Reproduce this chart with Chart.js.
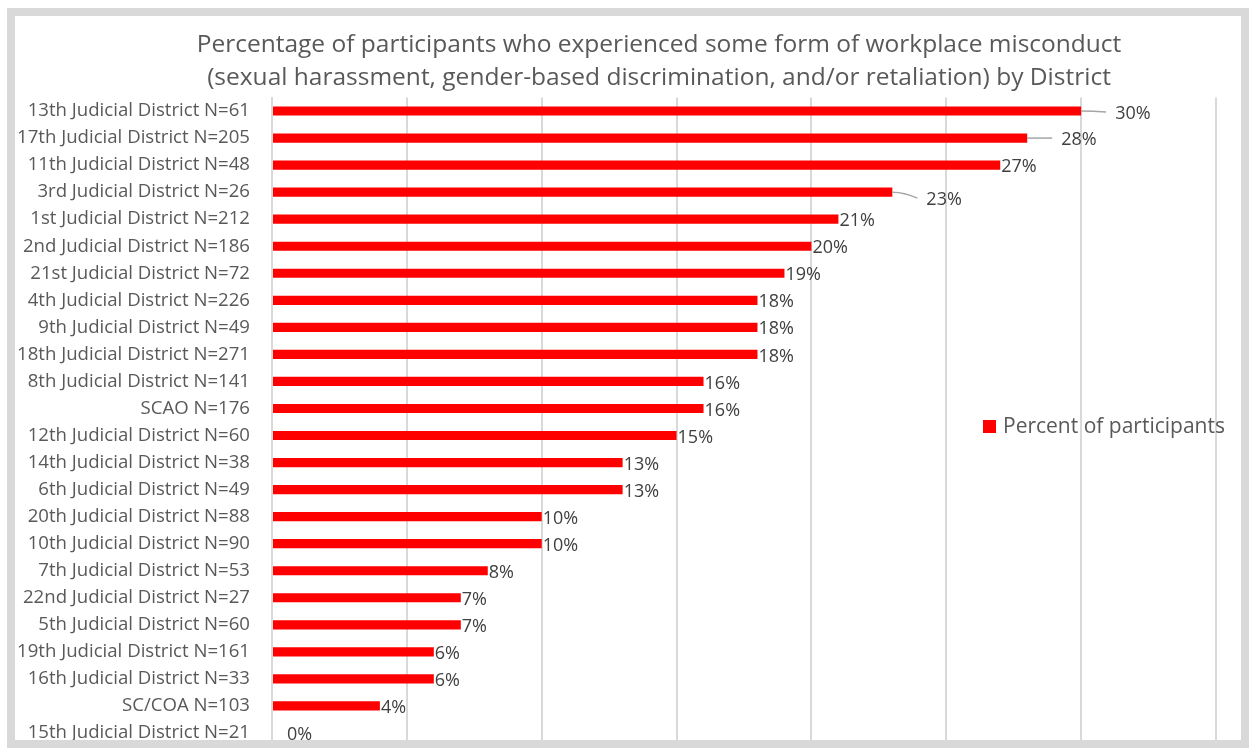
<!DOCTYPE html>
<html>
<head>
<meta charset="utf-8">
<title>Workplace misconduct by District</title>
<script src="https://cdn.jsdelivr.net/npm/chart.js@4.4.1/dist/chart.umd.min.js"></script>
<style>
  html, body { margin: 0; padding: 0; background: #fff; }
  #wrap { width: 1249px; height: 748px; position: relative; }
</style>
</head>
<body>
<div id="wrap"><canvas id="chart" width="1249" height="748"></canvas></div>
<script>
// --- Data ---
const districts = [
    '13th Judicial District N=61', '17th Judicial District N=205', '11th Judicial District N=48',
    '3rd Judicial District N=26', '1st Judicial District N=212', '2nd Judicial District N=186',
    '21st Judicial District N=72', '4th Judicial District N=226', '9th Judicial District N=49',
    '18th Judicial District N=271', '8th Judicial District N=141', 'SCAO N=176',
    '12th Judicial District N=60', '14th Judicial District N=38', '6th Judicial District N=49',
    '20th Judicial District N=88', '10th Judicial District N=90', '7th Judicial District N=53',
    '22nd Judicial District N=27', '5th Judicial District N=60', '19th Judicial District N=161',
    '16th Judicial District N=33', 'SC/COA N=103', '15th Judicial District N=21'
];
const percentValues = [30, 28, 27, 23, 21, 20, 19, 18, 18, 18, 16, 16, 15, 13, 13, 10, 10, 8, 7, 7, 6, 6, 4, 0];
const seriesName = 'Percent of participants';
const titleLines = [
    'Percentage of participants who experienced some form of workplace misconduct',
    '(sexual harassment, gender-based discrimination, and/or retaliation) by District'
];
const axisMax = 35;
const axisStep = 5;

// labels pulled away from the bar with a small leader line (index -> offset)
const callouts = {
    0: { dx: 34, dy: 1 },
    1: { dx: 34, dy: 0 },
    3: { dx: 34, dy: 6 }
};

const FONT = '"Open Sans", Lato, sans-serif';
const GRID = '#d9d9d9';

// --- Plugins ---
const titlePlugin = {
    id: 'centeredTitle',
    afterDraw(chart) {
        const ctx = chart.ctx;
        ctx.save();
        ctx.fillStyle = '#595959';
        ctx.font = '24.5px ' + FONT;
        ctx.textAlign = 'center';
        ctx.textBaseline = 'middle';
        ctx.fillText(titleLines[0], 659, 45);
        ctx.fillText(titleLines[1], 659, 78);
        ctx.restore();
    }
};

const valueLabels = {
    id: 'valueLabels',
    afterDatasetsDraw(chart) {
        const ctx = chart.ctx;
        const meta = chart.getDatasetMeta(0);
        const data = chart.data.datasets[0].data;
        ctx.save();
        ctx.font = '18px ' + FONT;
        ctx.fillStyle = '#404040';
        ctx.textBaseline = 'middle';
        ctx.textAlign = 'left';
        meta.data.forEach((bar, i) => {
            const v = data[i];
            const text = v + '%';
            const c = callouts[i];
            if (c) {
                const tx = bar.x + c.dx;
                const ty = bar.y + c.dy;
                ctx.strokeStyle = '#a6a6a6';
                ctx.lineWidth = 1.5;
                ctx.beginPath();
                ctx.moveTo(bar.x, bar.y);
                ctx.quadraticCurveTo(bar.x + 12, bar.y, tx - 9, ty);
                ctx.stroke();
                ctx.fillText(text, tx, ty + 2);
            } else {
                const pad = v === 0 ? 15 : 1;
                ctx.fillText(text, bar.x + pad, bar.y + 2);
            }
        });
        ctx.restore();
    }
};

const sideLegend = {
    id: 'sideLegend',
    afterDraw(chart) {
        const ctx = chart.ctx;
        const ds = chart.data.datasets[0];
        ctx.save();
        ctx.fillStyle = ds.backgroundColor;
        ctx.fillRect(983, 420, 13, 13);
        ctx.fillStyle = '#595959';
        ctx.font = '21px ' + FONT;
        ctx.textBaseline = 'middle';
        ctx.fillText(ds.label, 1003, 427);
        ctx.restore();
    }
};

const frame = {
    id: 'frame',
    afterDraw(chart) {
        const ctx = chart.ctx;
        ctx.save();
        ctx.strokeStyle = '#d9d9d9';
        ctx.lineWidth = 8;
        ctx.strokeRect(11, 12, 1249 - 11 - 4, 748 - 12 - 4);
        ctx.restore();
    }
};

// --- Chart ---
new Chart(document.getElementById('chart'), {
    type: 'bar',
    data: {
        labels: districts,
        datasets: [{
            label: seriesName,
            data: percentValues,
            backgroundColor: '#ff0000',
            borderWidth: 0,
            categoryPercentage: 1,
            barPercentage: 0.34
        }]
    },
    options: {
        indexAxis: 'y',
        responsive: false,
        animation: false,
        layout: { padding: { top: 97.5, bottom: 1.5, right: 33, left: 0 } },
        plugins: {
            legend: { display: false },
            title: { display: false },
            tooltip: { enabled: false }
        },
        scales: {
            x: {
                min: 0,
                max: axisMax,
                afterFit(scale) { scale.height = 0; },
                ticks: { display: false, stepSize: axisStep },
                grid: { color: GRID, lineWidth: 2, drawTicks: false },
                border: { display: false }
            },
            y: {
                afterFit(scale) {
                    // fixed label column, and no extra room above/below the bands
                    scale.width = 272;
                    scale.paddingTop = 0;
                    scale.paddingBottom = 0;
                },
                ticks: {
                    color: '#595959',
                    font: { family: FONT, size: 18.6 },
                    padding: 22,
                    autoSkip: false
                },
                grid: { display: false, drawTicks: false },
                border: { display: true, color: GRID, width: 2 }
            }
        }
    },
    plugins: [titlePlugin, valueLabels, sideLegend, frame]
});
</script>
</body>
</html>
